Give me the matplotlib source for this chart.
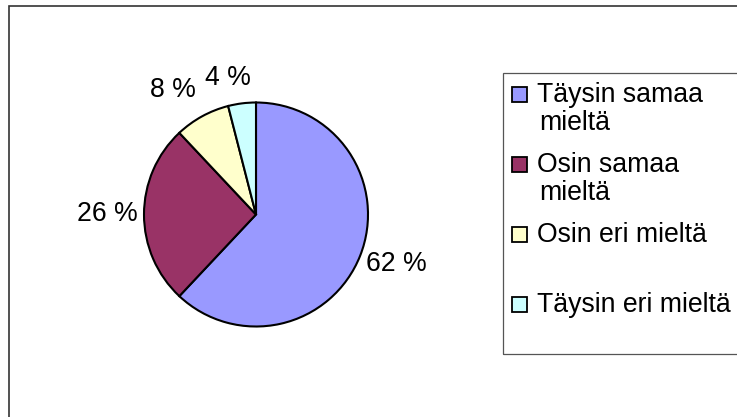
import matplotlib
matplotlib.use("Agg")
import matplotlib.pyplot as plt
from matplotlib.patches import Rectangle
import numpy as np

plt.rcParams['font.family'] = ['Liberation Sans', 'DejaVu Sans']

# data
categories = ["Täysin samaa\nmieltä", "Osin samaa\nmieltä", "Osin eri mieltä", "Täysin eri mieltä"]
values = [62, 26, 8, 4]
colors = ["#9999FF", "#993366", "#FFFFCC", "#CCFFFF"]

W, H = 737, 417
fig = plt.figure(figsize=(W / 100, H / 100), dpi=100)
ax = fig.add_axes([0, 0, 1, 1])

def py(y):
    # pixel row from top -> data y
    return H - y

fs = 19.2
cx, cy, r = 256, py(214.5), 112

wedges, _ = ax.pie(values, colors=colors, startangle=90, counterclock=False,
                   center=(cx, cy), radius=r, frame=True,
                   wedgeprops=dict(edgecolor="black", linewidth=1.5))
ax.set_xlim(0, W)
ax.set_ylim(0, H)
ax.set_aspect('equal')
ax.axis('off')

# percent labels outside the slices (small slices pushed apart like Excel does)
lab_dist = [1.33, 1.33, 1.335, 1.24]
lab_rot = [2.0, 0.0, 4.9, 4.4]
for w, v, d, rot in zip(wedges, values, lab_dist, lab_rot):
    ang = np.deg2rad((w.theta1 + w.theta2) / 2 + rot)
    ax.text(cx + d * r * np.cos(ang), cy + d * r * np.sin(ang), f"{v} %",
            fontsize=fs, ha='center', va='center', color="black")

# outer chart border
ax.add_patch(Rectangle((9.5, -10), W + 20, py(6) + 10, fill=False,
                       edgecolor="#333333", linewidth=1.2))

# legend box
ax.add_patch(Rectangle((503.5, py(354)), W, 354 - 73, fill=False,
                       edgecolor="#555555", linewidth=0.9))

step = 70
line_h = 28
for i, (lab, col) in enumerate(zip(categories, colors)):
    base = 102 + i * step
    ax.add_patch(Rectangle((512.5, py(base)), 15, 15, facecolor=col,
                           edgecolor="black", linewidth=1.3))
    for k, line in enumerate(lab.split("\n")):
        ax.text(537 + (2 if k else 0), py(base + k * line_h), line,
                fontsize=fs, va='baseline', ha='left', color="black")

fig.savefig("out.png", dpi=100, facecolor="white")
